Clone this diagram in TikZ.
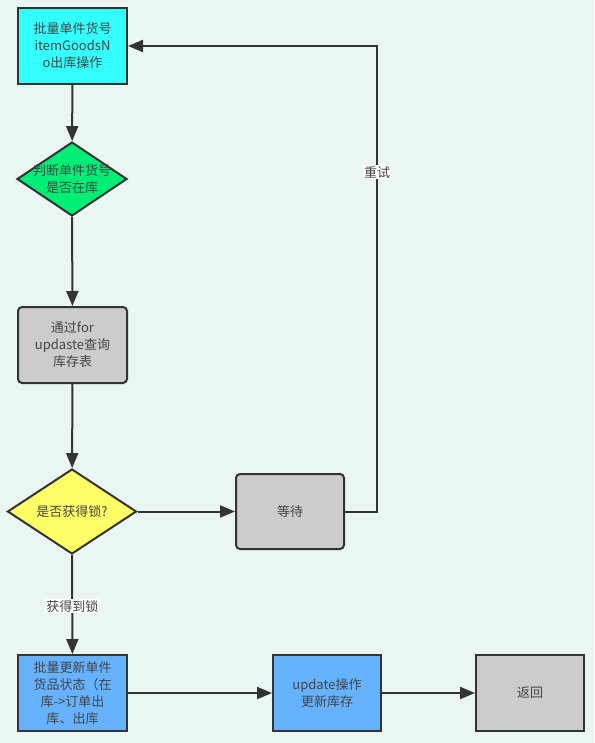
\documentclass[tikz,border=0pt]{standalone}
\usepackage{fontspec}
\setmainfont{Noto Sans CJK SC}
\usetikzlibrary{shapes.geometric,arrows.meta}
\definecolor{bg}{HTML}{EAF6F2}
\definecolor{ink}{HTML}{333333}
\definecolor{txtc}{HTML}{444444}
\definecolor{cyanfill}{HTML}{33FFFF}
\definecolor{greenfill}{HTML}{00EE76}
\definecolor{greyfill}{HTML}{CCCCCC}
\definecolor{yellowfill}{HTML}{FFFF66}
\definecolor{bluefill}{HTML}{66B2FF}
\begin{document}
\begin{tikzpicture}[x=1pt,y=-1pt,
  txt/.style={font=\fontsize{13}{17}\selectfont, text=txtc, align=center},
  boxnode/.style={txt, draw=ink, line width=2pt, rectangle, minimum width=109pt, minimum height=76pt, inner sep=0pt},
  roundnode/.style={boxnode, rounded corners=4pt, fill=greyfill},
  dianode/.style={draw=ink, line width=2pt, diamond, inner sep=0pt},
  arr/.style={draw=ink, line width=2pt, -{Triangle[length=15pt,width=12pt]}},
  lbl/.style={txt, fill=white, inner sep=1pt}
]
\fill[bg] (0,0) rectangle (594,743);
\useasboundingbox (0,0) rectangle (594,743);

\node[boxnode, fill=cyanfill] (n1) at (72.5,46) {批量单件货号\\itemGoodsN\\o出库操作};
\node[dianode, fill=greenfill, minimum width=110pt, minimum height=74pt,
      label={[txt]center:判断单件货号\\是否在库}] (n2) at (72,179) {};
\node[roundnode] (n3) at (72.5,345) {通过for\\updaste查询\\库存表};
\node[dianode, fill=yellowfill, minimum width=129pt, minimum height=85pt,
      label={[txt]center:是否获得锁?}] (n4) at (72,511.5) {};
\node[roundnode, minimum width=108pt, minimum height=75pt] (n5) at (290,511.5) {等待};
\node[boxnode, fill=bluefill] (n6) at (72.5,693) {批量更新单件\\货品状态（在\\库->订单出\\库、出库};
\node[boxnode, fill=bluefill, minimum width=108pt] (n7) at (327,693) {update操作\\更新库存};
\node[boxnode, fill=greyfill, minimum width=108pt] (n8) at (530,693) {返回};

\coordinate (turn) at (377,511.5);
\coordinate (top) at (377,46);

\draw[arr] (n1) -- (n2);
\draw[arr] (n2) -- (n3);
\draw[arr] (n3) -- (n4);
\draw[arr] (n4) -- (n5);
\draw[arr] (n5.east) -- (turn) -- node[lbl, pos=0.729] (l1) {重试} (top) -- (n1.east);
\draw[arr] (n4) -- node[lbl, pos=0.52] (l2) {获得到锁} (n6);
\draw[arr] (n6) -- (n7);
\draw[arr] (n7) -- (n8);
\end{tikzpicture}
\end{document}
